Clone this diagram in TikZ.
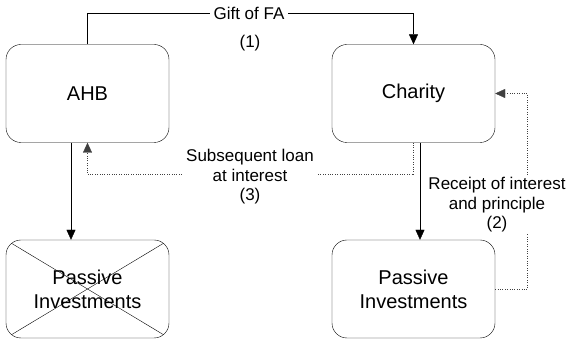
\documentclass[tikz,border=0pt]{standalone}
\usepackage{fontspec}
\setmainfont{Liberation Sans}
\usetikzlibrary{arrows.meta}

\begin{document}
\begin{tikzpicture}[x=1pt,y=-1pt]
\tikzset{boite/.style={draw, rounded corners=15pt, minimum width=163pt, minimum height=98pt, align=center, font=\fontsize{20}{24}\selectfont},
fleche/.style={-{Triangle[length=10pt,width=9pt]}},
pointille/.style={dotted, draw=black!75},
etiq/.style={align=center, inner sep=4pt, font=\fontsize{17}{19.5}\selectfont}}
\useasboundingbox (0,0) rectangle (574,339);
\node[boite] (AHB) at (87.5,93.5) {AHB};
\node[boite] (Charity) at (413.5,93.5) {Charity};
\node[boite, path picture={
  \draw (path picture bounding box.north west) -- (path picture bounding box.south east);
  \draw (path picture bounding box.north east) -- (path picture bounding box.south west);}] (PassL) at (87.5,289) {Passive\\Investments};
\node[boite] (PassR) at (413.5,289) {Passive\\Investments};
% gift
\draw[fleche] (AHB.north) -- ++(0,-31) -| (Charity.north);
\node[etiq, fill=white] (Gift) at (249,13) {Gift of FA};
\node[etiq] (Un) at (250,43) {(1)};
% investments
\draw[fleche] ([xshift=-16.5pt]AHB.south) -- ([xshift=-16.5pt]PassL.north);
\draw[fleche] ([xshift=6.5pt]Charity.south) -- ([xshift=6.5pt]PassR.north);
% loan and receipt
\draw[pointille, fleche] (Charity.south) -- ++(0,32) -| (AHB.south);
\node[etiq, fill=white] (Pret) at (250,177) {Subsequent loan\\at interest\\(3)};
\draw[pointille, fleche] (PassR.east) -- ++(32,0) |- (Charity.east);
\node[etiq, fill=white, inner sep=2pt] (Recu) at (497,205) {Receipt of interest\\and principle\\(2)};
\end{tikzpicture}
\end{document}
